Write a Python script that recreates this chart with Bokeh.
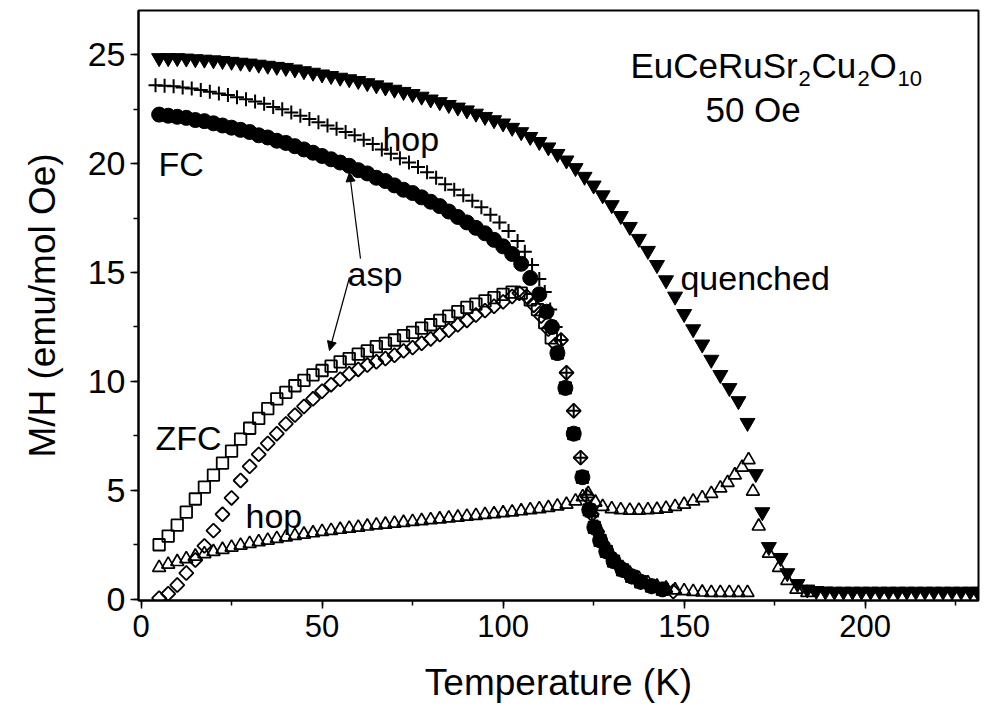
import numpy as np
from bokeh.plotting import figure
from bokeh.models import Range1d, SingleIntervalTicker, Label, Arrow, NormalHead
from bokeh.embed import file_html
from bokeh.resources import INLINE

# ---------------- data ----------------
# FC, quenched sample (filled down-triangles)
q_fc_T = [5, 7.5, 10, 12.5, 15, 17.5, 20, 22.5, 25, 27.5, 30, 32.5, 35, 37.5, 40, 42.5, 45, 47.5,
          50, 52.5, 55, 57.5, 60, 62.5, 65, 67.5, 70, 72.5, 75, 77.5, 80, 82.5, 85, 87.5, 90, 92.5,
          95, 97.5, 100, 102.5, 105, 107.5, 110, 112.5, 115, 117.5, 120, 122.5, 125, 127.5, 130,
          132.5, 135, 137.5, 140, 142.5, 145, 147.5, 150, 152.5, 155, 157.5, 160, 162.5, 165, 167.5,
          169.8, 171.6, 173.4, 176.6, 178.5, 181.3, 184, 186.5, 189, 191.5, 194, 196.5, 199, 201.5,
          204, 206.5, 209, 211.5, 214, 216.5, 219, 221.5, 224, 226.5, 229, 231]
q_fc_M = [24.85, 24.85, 24.85, 24.83, 24.8, 24.78, 24.75, 24.72, 24.68, 24.64, 24.6, 24.55, 24.5,
          24.45, 24.4, 24.33, 24.25, 24.18, 24.1, 24.03, 23.95, 23.88, 23.8, 23.7, 23.6, 23.5, 23.4,
          23.3, 23.2, 23.08, 22.95, 22.83, 22.7, 22.58, 22.45, 22.3, 22.15, 22.0, 21.85, 21.65, 21.45,
          21.23, 21.0, 20.75, 20.45, 20.15, 19.8, 19.4, 19.0, 18.55, 18.1, 17.6, 17.1, 16.55, 16.0,
          15.35, 14.65, 13.9, 13.1, 12.4, 11.7, 11.0, 10.3, 9.7, 9.1, 8.1,
          5.75, 4.0, 2.4, 1.9, 1.2, 0.7, 0.45, 0.38, 0.36, 0.35, 0.35, 0.35, 0.35, 0.35,
          0.35, 0.35, 0.35, 0.35, 0.35, 0.35, 0.35, 0.35, 0.35, 0.35, 0.35, 0.35]

# FC, hop sample (crosses)
h_fc_T = [4, 6.5, 9, 11.5, 14, 16.5, 19, 21.5, 24, 26.5, 29, 31.5, 34, 36.5, 39, 41.5, 44, 46.5, 49,
          51.5, 54, 56.5, 59, 61.5, 64, 66.5, 69, 71.5, 74, 76.5, 79, 81.5, 84, 86.5, 89, 91.5, 94,
          96.5, 99, 101.5, 104, 106, 108, 110, 111.5, 113, 114.5, 116, 117.5, 119.5, 121.4, 123,
          124.5, 126, 127.5, 129, 131, 133, 135.5, 138, 141, 144]
h_fc_M = [23.6, 23.58, 23.55, 23.5, 23.45, 23.38, 23.3, 23.22, 23.15, 23.05, 22.95, 22.85, 22.75,
          22.6, 22.5, 22.35, 22.2, 22.05, 21.9, 21.75, 21.6, 21.45, 21.3, 21.1, 20.9, 20.65, 20.45,
          20.25, 20.05, 19.85, 19.6, 19.35, 19.05, 18.8, 18.55, 18.3, 18.0, 17.65, 17.3, 16.9, 16.45,
          15.95, 15.35, 14.7, 14.1, 13.3, 12.5, 11.9, 10.4, 8.65, 6.5, 4.8, 3.8, 3.05, 2.5, 2.05,
          1.65, 1.3, 1.0, 0.75, 0.55, 0.45]

# FC, asp sample (filled circles)
a_fc_T = [5, 7.5, 10, 12.5, 15, 17.5, 20, 22.5, 25, 27.5, 30, 32.5, 35, 37.5, 40, 42.5, 45, 47.5,
          50, 52.5, 55, 57.5, 60, 62.5, 65, 67.5, 70, 72.5, 75, 77.5, 80, 82.5, 85, 87.5, 90, 92.5,
          95, 97.5, 100, 102.5, 105, 107.5, 110, 112, 113.5, 115, 117.2, 119.5, 121.9, 123.8, 125.2,
          126.8, 128.5, 130.5, 133, 135.5, 138, 141, 144]
a_fc_M = [22.25, 22.2, 22.15, 22.1, 22.0, 21.95, 21.85, 21.75, 21.65, 21.55, 21.45, 21.3, 21.2,
          21.05, 20.95, 20.8, 20.65, 20.5, 20.35, 20.2, 20.05, 19.9, 19.7, 19.55, 19.35, 19.2, 19.0,
          18.8, 18.65, 18.45, 18.25, 18.05, 17.8, 17.55, 17.3, 17.05, 16.8, 16.5, 16.2, 15.85, 15.4,
          14.75, 14.0, 13.2, 12.5, 11.3, 9.7, 7.6, 5.6, 4.1, 3.3, 2.7, 2.2, 1.75, 1.35, 1.05, 0.8,
          0.6, 0.45]

# ZFC, asp sample (open squares)
a_zfc_T = [5, 7.5, 10, 12.5, 15, 17.5, 20, 22.5, 25, 27.5, 30, 32.5, 35, 37.5, 40, 42.5, 45, 47.5,
           50, 52.5, 55, 57.5, 60, 62.5, 65, 67.5, 70, 72.5, 75, 77.5, 80, 82.5, 85, 87.5, 90, 92.5,
           95, 97.5, 100, 102.5, 105, 107.5, 109.5, 111.5, 113.3, 115, 117.2, 119.5, 121.9, 123.8,
           125.2, 126.8, 128.5, 130.5, 133, 135.5, 138, 141, 144]
a_zfc_M = [2.5, 2.9, 3.4, 4.0, 4.6, 5.15, 5.7, 6.25, 6.8, 7.35, 7.85, 8.3, 8.75, 9.2, 9.5, 9.8,
           10.05, 10.3, 10.5, 10.7, 10.9, 11.05, 11.25, 11.4, 11.6, 11.75, 11.9, 12.1, 12.25, 12.45,
           12.6, 12.8, 13.0, 13.2, 13.4, 13.55, 13.7, 13.85, 14.0, 14.1, 14.05, 13.75, 13.3, 12.7,
           12.0, 11.3, 9.7, 7.6, 5.6, 4.1, 3.3, 2.7, 2.2, 1.75, 1.35, 1.05, 0.8, 0.6, 0.45]

# ZFC, hop sample (open diamonds)
h_zfc_T = [5, 7.5, 10, 12.5, 15, 17.5, 20, 22.5, 25, 27.5, 30, 32.5, 35, 37.5, 40, 42.5, 45, 47.5,
           50, 52.5, 55, 57.5, 60, 62.5, 65, 67.5, 70, 72.5, 75, 77.5, 80, 82.5, 85, 87.5, 90, 92.5,
           95, 97.5, 100, 102.5, 104.5, 106.5, 108.5, 110.5, 112.5, 114.5, 116, 117.5, 119.5, 121.4,
           123.3, 124.5, 126, 127.5, 129, 131, 133, 135.5, 138, 141, 144, 147]
h_zfc_M = [0.05, 0.25, 0.65, 1.2, 1.8, 2.45, 3.15, 3.9, 4.65, 5.45, 6.1, 6.65, 7.15, 7.6, 8.05,
           8.45, 8.85, 9.2, 9.55, 9.85, 10.1, 10.35, 10.55, 10.75, 10.9, 11.05, 11.2, 11.4, 11.55,
           11.75, 11.95, 12.15, 12.35, 12.6, 12.8, 13.05, 13.25, 13.45, 13.65, 13.9, 14.05, 13.9,
           13.5, 13.0, 12.4, 11.7, 11.9, 10.4, 8.65, 6.5, 4.7, 3.9, 3.1, 2.55, 2.1, 1.7, 1.35, 1.05,
           0.8, 0.6, 0.45, 0.35]

# ZFC, quenched sample (open up-triangles)
q_zfc_T = [5, 7.5, 10, 12.5, 15, 17.5, 20, 22.5, 25, 27.5, 30, 32.5, 35, 37.5, 40, 42.5, 45, 47.5,
           50, 52.5, 55, 57.5, 60, 62.5, 65, 67.5, 70, 72.5, 75, 77.5, 80, 82.5, 85, 87.5, 90, 92.5,
           95, 97.5, 100, 102.5, 105, 107.5, 110, 112.5, 115, 117.5, 120, 122, 123.5, 125.5, 127.5,
           130, 132.5, 135, 137.5, 140, 142.5, 145, 147.5, 150, 152.5, 155, 157.5, 160, 162, 164,
           166, 167.8, 169, 170.6, 173.4, 176.2, 178.5, 181, 184]
q_zfc_M = [1.45, 1.6, 1.72, 1.85, 1.97, 2.08, 2.18, 2.28, 2.38, 2.47, 2.55, 2.63, 2.7, 2.78, 2.85,
           2.92, 2.98, 3.04, 3.1, 3.15, 3.2, 3.25, 3.3, 3.35, 3.4, 3.44, 3.48, 3.52, 3.56, 3.6, 3.64,
           3.68, 3.72, 3.76, 3.8, 3.84, 3.88, 3.92, 3.96, 4.0, 4.05, 4.1, 4.15, 4.2, 4.27, 4.35, 4.5,
           4.7, 4.85, 4.45, 4.25, 4.15, 4.1, 4.08, 4.08, 4.1, 4.12, 4.17, 4.25, 4.35, 4.5, 4.65, 4.85,
           5.1, 5.35, 5.7, 6.05, 6.4, 4.95, 3.35, 2.1, 1.45, 0.85, 0.45, 0.3]

# low-lying open up-triangles following the drop above 123 K
tail_T = [124.5, 126, 127.5, 129, 131, 133, 135, 137.5, 140, 142.5, 145, 147.5, 150, 152.5, 155,
          157.5, 160, 162.5, 165, 167.5]
tail_M = [4.0, 3.3, 2.7, 2.25, 1.8, 1.45, 1.2, 0.95, 0.75, 0.6, 0.5, 0.42, 0.38, 0.35, 0.32, 0.3,
          0.3, 0.3, 0.3, 0.3]

FONT = "Liberation Sans"

p = figure(frame_width=840, frame_height=590, output_backend="svg", toolbar_location=None,
           min_border_left=138, min_border_right=7, min_border_top=10, min_border_bottom=119,
           x_range=Range1d(-0.7, 231.3), y_range=Range1d(-0.06, 27.03),
           background_fill_color="white", border_fill_color="white")

p.xgrid.visible = False
p.ygrid.visible = False
p.outline_line_color = "black"
p.outline_line_width = 2

p.xaxis.ticker = SingleIntervalTicker(interval=50, num_minor_ticks=2)
p.yaxis.ticker = SingleIntervalTicker(interval=5, num_minor_ticks=2)
for ax in (p.xaxis[0], p.yaxis[0]):
    ax.axis_line_width = 2
    ax.axis_line_color = "black"
    ax.major_tick_line_width = 1.5
    ax.minor_tick_line_width = 1.5
    ax.major_tick_out = 8
    ax.major_tick_in = 0
    ax.minor_tick_out = 5
    ax.minor_tick_in = 0
    ax.major_label_text_font = FONT
    ax.major_label_text_color = "black"
    ax.axis_label_text_font = FONT
    ax.axis_label_text_font_style = "normal"
    ax.axis_label_text_color = "black"
    ax.axis_label_text_font_size = "37px"

p.xaxis.major_label_text_font_size = "31px"
p.yaxis.major_label_text_font_size = "34px"
p.xaxis.major_label_standoff = 6
p.yaxis.major_label_standoff = 5
p.xaxis.axis_label = "Temperature (K)"
p.yaxis.axis_label = "M/H (emu/mol Oe)"
p.xaxis.axis_label_standoff = 22
p.yaxis.axis_label_standoff = 22

# ---------------- series ----------------
p.scatter(q_zfc_T, q_zfc_M, marker="triangle", size=13, fill_alpha=0, line_color="black", line_width=1.7)
p.scatter(tail_T, tail_M, marker="triangle", size=13, fill_alpha=0, line_color="black", line_width=1.7)
p.scatter(a_zfc_T, a_zfc_M, marker="square", size=11.5, fill_alpha=0, line_color="black", line_width=1.8)
p.scatter(h_zfc_T, h_zfc_M, marker="square", angle=np.pi / 4, size=10, fill_alpha=0, line_color="black", line_width=1.8)
p.scatter(a_fc_T, a_fc_M, marker="circle", size=15, fill_color="black", line_color="black")
p.scatter(h_fc_T, h_fc_M, marker="cross", size=14, line_color="black", line_width=2)
p.scatter(q_fc_T, q_fc_M, marker="inverted_triangle", size=15, fill_color="black", line_color="black")

# ---------------- annotations ----------------
def lab(x, y, text, size="34px"):
    p.add_layout(Label(x=x, y=y, text=text, text_font=FONT, text_font_size=size,
                       text_color="black", text_baseline="alphabetic", text_align="left"))

lab(4.82, 20.0, "FC")
lab(66.68, 21.11, "hop")
lab(57.02, 14.95, "asp")
lab(148.98, 14.77, "quenched")
lab(4.0, 7.38, "ZFC")
lab(28.85, 3.80, "hop")
lab(155.89, 22.48, "50 Oe", "35px")

# chemical formula with subscripts
lab(135.17, 24.50, "EuCeRuSr", "35px")
lab(181.57, 23.91, "2", "22px")
lab(185.16, 24.50, "Cu", "35px")
lab(197.86, 23.91, "2", "22px")
lab(201.18, 24.50, "O", "35px")
lab(208.91, 23.91, "10", "22px")

for xs, ys, xe, ye in [(60.61, 15.64, 57.57, 19.59), (57.57, 14.77, 52.05, 11.42)]:
    p.add_layout(Arrow(end=NormalHead(size=9, fill_color="black", line_color="black"),
                       x_start=xs, y_start=ys, x_end=xe, y_end=ye,
                       line_color="black", line_width=1.2))

open("out.html", "w").write(file_html(p, INLINE))
